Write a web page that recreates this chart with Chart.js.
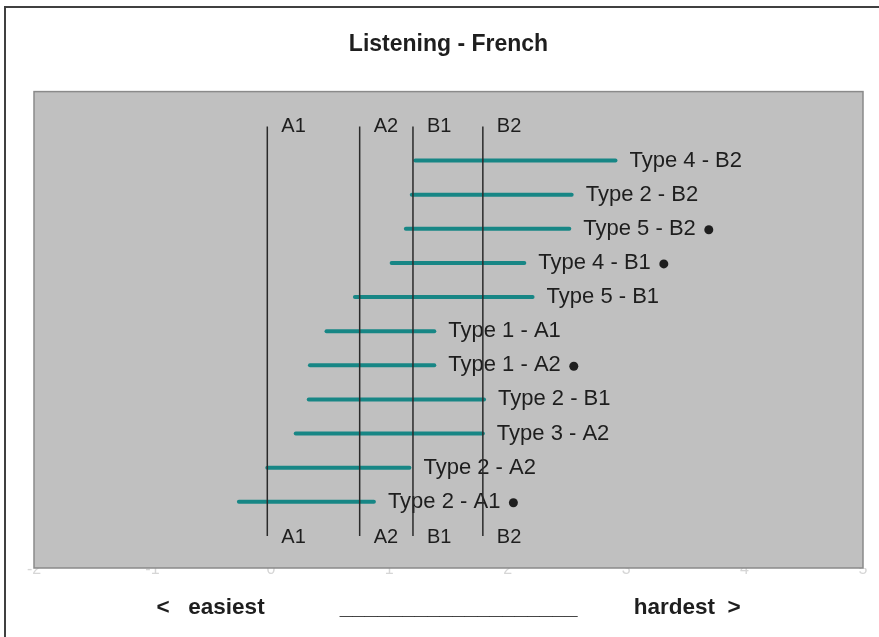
<!DOCTYPE html>
<html>
<head>
<meta charset="utf-8">
<title>Listening - French</title>
<script src="https://cdn.jsdelivr.net/npm/chart.js@4"></script>
<style>
  html, body { margin: 0; padding: 0; background: #fff; overflow: hidden; }
  #frame { position: absolute; left: 4px; top: 6px; width: 1000px; height: 1000px;
           border-left: 2px solid #404040; border-top: 2px solid #404040; }
  #wrap { position: absolute; left: 0; top: 0; width: 879px; height: 637px; }
</style>
</head>
<body>
<div id="frame"></div>
<div id="wrap"><canvas id="chart"></canvas></div>
<script>
// rows, bottom to top
const rowLabels = ['Type 2 - A1', 'Type 2 - A2', 'Type 3 - A2', 'Type 2 - B1', 'Type 1 - A2',
                   'Type 1 - A1', 'Type 5 - B1', 'Type 4 - B1', 'Type 5 - B2', 'Type 2 - B2', 'Type 4 - B2'];
const rangeFrom = [-0.27, -0.03, 0.21, 0.32, 0.33, 0.47, 0.71, 1.02, 1.14, 1.19, 1.22];
const rangeTo   = [0.87, 1.17, 1.79, 1.80, 1.38, 1.38, 2.21, 2.14, 2.52, 2.54, 2.91];
const flagged   = [true, false, false, false, true, false, false, true, true, false, false];

// CEFR level cut points
const levelNames = ['A1', 'A2', 'B1', 'B2'];
const levelAt = [-0.03, 0.75, 1.20, 1.79];

const xMin = -2, xMax = 5;
const topRow = rowLabels.length + 1;

const TEAL = '#178685';
const INK = '#1e1e1e';
const FONT = "'Liberation Sans', Arial, sans-serif";

const datasets = [];
levelAt.forEach((v, i) => {
  datasets.push({
    label: levelNames[i],
    data: [{ x: v, y: 0 }, { x: v, y: topRow }],
    showLine: true,
    borderColor: '#2a2a2a',
    borderWidth: 1.5,
    pointRadius: 0,
    order: 0
  });
});
rowLabels.forEach((name, i) => {
  datasets.push({
    label: name,
    data: [{ x: rangeFrom[i], y: i + 1 }, { x: rangeTo[i], y: i + 1 }],
    showLine: true,
    borderColor: TEAL,
    borderWidth: 4,
    borderCapStyle: 'round',
    pointRadius: 0,
    order: 1
  });
});

// grey plot area + all the text labels, under the lines
const plotArea = {
  id: 'plotArea',
  beforeDatasetsDraw(chart) {
    const { ctx, chartArea: a, scales: { x, y } } = chart;
    ctx.save();
    ctx.fillStyle = '#c0c0c0';
    ctx.fillRect(a.left, a.top, a.right - a.left, a.bottom - a.top);
    ctx.strokeStyle = '#8a8a8a';
    ctx.lineWidth = 1.5;
    ctx.strokeRect(a.left, a.top, a.right - a.left, a.bottom - a.top);

    ctx.fillStyle = INK;
    ctx.textBaseline = 'middle';
    ctx.textAlign = 'left';

    ctx.font = '20px ' + FONT;
    levelAt.forEach((v, i) => {
      const px = x.getPixelForValue(v) + 14;
      ctx.fillText(levelNames[i], px, y.getPixelForValue(topRow));
      ctx.fillText(levelNames[i], px, y.getPixelForValue(0) + 2);
    });

    ctx.font = '22px ' + FONT;
    rowLabels.forEach((name, i) => {
      const px = x.getPixelForValue(rangeTo[i]) + 14;
      const py = y.getPixelForValue(i + 1);
      ctx.fillText(name, px, py);
      if (flagged[i]) {
        const w = ctx.measureText(name).width;
        ctx.beginPath();
        ctx.arc(px + w + 13, py + 1, 4.5, 0, Math.PI * 2);
        ctx.fill();
      }
    });
    ctx.restore();
  }
};

new Chart(document.getElementById('chart'), {
  type: 'scatter',
  data: { datasets },
  options: {
    responsive: true,
    maintainAspectRatio: false,
    animation: false,
    layout: { padding: { left: 34, right: 16, top: 0, bottom: 0 } },
    plugins: {
      legend: { display: false },
      tooltip: { enabled: false },
      title: {
        display: true,
        text: 'Listening - French',
        color: INK,
        font: { family: FONT, size: 23, weight: 'bold' },
        padding: { top: 31, bottom: 33 }
      }
    },
    scales: {
      x: {
        type: 'linear',
        min: xMin,
        max: xMax,
        ticks: { stepSize: 1, color: '#d6d6d6', padding: -8, font: { family: FONT, size: 16 } },
        grid: { display: false, drawTicks: false },
        border: { display: false },
        title: {
          display: true,
          text: '<   easiest            ___________________         hardest  >',
          color: INK,
          font: { family: FONT, size: 22.5, weight: 'bold' },
          padding: { top: 0, bottom: 16 }
        },
        afterFit(scale) { scale.height = 69; }
      },
      y: { type: 'linear', min: -0.94, max: 13.02, display: false }
    }
  },
  plugins: [plotArea]
});
</script>
</body>
</html>
